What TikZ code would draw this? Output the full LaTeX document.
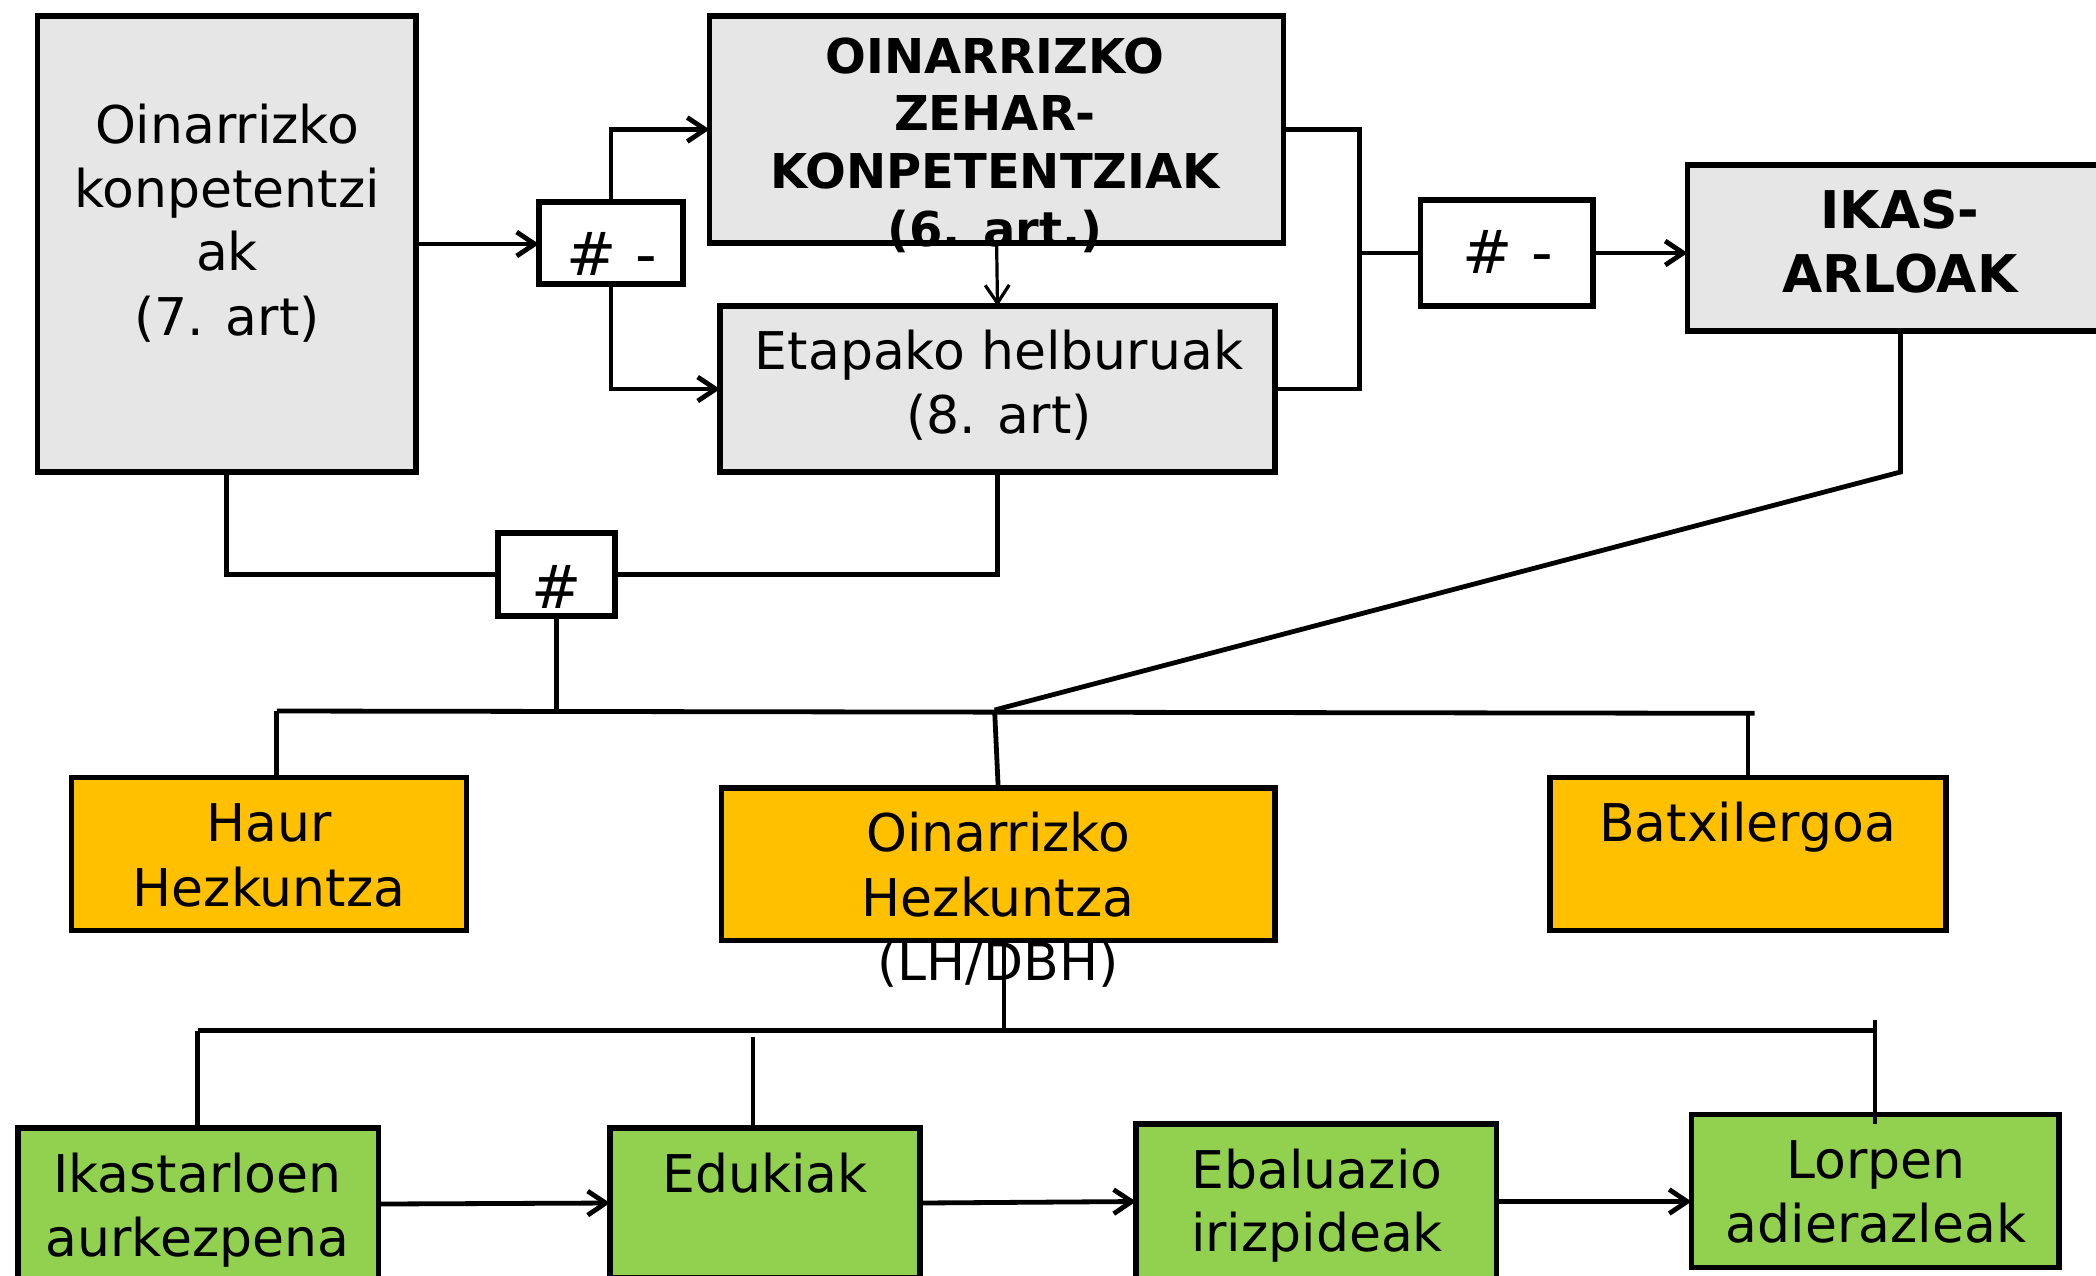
\documentclass[tikz,border=0pt]{standalone}
\usepackage{fontspec}
\setmainfont{DejaVu Sans}
\usetikzlibrary{arrows.meta,calc}
\definecolor{boxgray}{HTML}{E6E6E6}
\definecolor{boxorange}{HTML}{FFC000}
\definecolor{boxgreen}{HTML}{92D050}
\begin{document}
\begin{tikzpicture}[x=0.5pt,y=-0.5pt,
  box/.style={draw=black, line width=2.6pt, rectangle, inner sep=0pt, outer sep=0pt, anchor=north west},
  ln/.style={draw=black, line width=2.4pt},
  arr/.style={ln, -{Straight Barb[length=9pt,width=12pt]}},
  thinarr/.style={draw=black, line width=1.6pt, -{Straight Barb[length=9pt,width=12pt]}},
  txt/.style={anchor=base, inner sep=0pt, font=\fontsize{26pt}{31pt}\selectfont},
  btxt/.style={anchor=base, inner sep=0pt, font=\fontsize{24pt}{29pt}\selectfont\bfseries},
  bbtxt/.style={anchor=base, inner sep=0pt, font=\fontsize{26pt}{31pt}\selectfont\bfseries},
  htxt/.style={anchor=base, inner sep=0pt, font=\fontsize{30pt}{36pt}\selectfont}
]
\useasboundingbox (0,0) rectangle (2096,1275);
\fill[white] (0,0) rectangle (2096,1275);
\clip (0,0) rectangle (2096,1275);

% boxes
\node[box, fill=boxgray, minimum width=189.25pt, minimum height=228pt] (A) at (37.5,16) {};
\node[box, fill=white, minimum width=72pt, minimum height=41pt] (H1) at (539,202) {};
\node[box, fill=boxgray, minimum width=287pt, minimum height=113.5pt] (B) at (709.6,16) {};
\node[box, fill=boxgray, minimum width=277.5pt, minimum height=83pt] (C) at (720,306) {};
\node[box, fill=white, minimum width=86.25pt, minimum height=53pt] (H2) at (1420.5,200) {};
\node[box, fill=boxgray, minimum width=213pt, minimum height=83pt] (D) at (1687.5,165) {};
\node[box, fill=white, minimum width=58.5pt, minimum height=41.5pt] (H3) at (498,533) {};
\node[box, fill=boxorange, minimum width=197.5pt, minimum height=76.5pt] (Haur) at (71.4,777.7) {};
\node[box, fill=boxorange, minimum width=276.8pt, minimum height=76.25pt] (OH) at (721.4,788) {};
\node[box, fill=boxorange, minimum width=198pt, minimum height=76.5pt] (Batx) at (1550,777.7) {};
\node[box, fill=boxgreen, minimum width=180.35pt, minimum height=76pt] (Ik) at (17.9,1128) {};
\node[box, fill=boxgreen, minimum width=155pt, minimum height=75pt] (Edu) at (610,1128) {};
\node[box, fill=boxgreen, minimum width=180.2pt, minimum height=77.5pt] (Ebal) at (1136,1124) {};
\node[box, fill=boxgreen, minimum width=183.75pt, minimum height=76.5pt] (Lor) at (1691.5,1114.7) {};

% connectors
\draw[arr] (A.east) -- (A.east -| H1.west);
\draw[arr] (H1.north) |- (B.west);
\draw[arr] (H1.south) |- (C.west);
\draw[thinarr] (B.south) -- (C.north);
\coordinate (J) at (1359.6,253);
\draw[ln] (B.east) -| (J) |- (C.east);
\draw[ln] (J) -- (H2.west);
\draw[arr] (H2.east) -- (H2.east -| D.west);
\coordinate (K1) at (994.6,710);
\coordinate (Dk) at (1900.5,472);
\draw[ln] (D.south) -- (Dk) -- (K1);
\draw[ln] (A.south) |- (H3.west);
\draw[ln] (C.south) |- (H3.east);
\coordinate (b1L) at (276.8,711);
\coordinate (b1R) at (1754.5,713.3);
\draw[ln] (b1L) -- (b1R);
\draw[ln] (H3.south) -- (H3.south |- b1L);
\draw[ln] (b1L) -- (b1L |- Haur.north);
\draw[ln] (K1) -- (OH.north);
\draw[ln] (Batx.north |- b1R) -- (Batx.north);
\coordinate (b2L) at (197.8,1030.8);
\coordinate (b2R) at (1875,1030.8);
\coordinate (O1) at (1004,940.5);
\draw[ln] (O1) -- (O1 |- b2L);
\draw[ln] (b2L) -- (b2R);
\draw[ln] (b2L) -- (b2L |- Ik.north);
\coordinate (E1) at (753,1037);
\draw[ln] (E1) -- (E1 |- Edu.north);
\coordinate (L1) at (1875,1020);
\coordinate (L2) at (1875,1124);
\draw[ln] (L1) -- (L2);
\draw[arr] (Ik.east) -- (Edu.west);
\draw[arr] (Edu.east) -- (Ebal.west);
\draw[arr] (Ebal.east) -- (Ebal.east -| Lor.west);

% texts
\node[txt] (a1) at (227,143) {Oinarrizko};
\node[txt] (a2) at (227,207) {konpetentzi};
\node[txt] (a3) at (227,270) {ak};
\node[txt] (a4) at (227,335) {(7. art)};
\node[htxt] (h1t) at (612,275) {\# -};
\node[btxt] (b1) at (995,73.7) {OINARRIZKO};
\node[btxt] (b2) at (995,130.8) {ZEHAR-};
\node[btxt] (b3) at (995,188.8) {KONPETENTZIAK};
\begin{scope}
\clip (700,0) rectangle (1300,252);
\node[btxt] (b4) at (995,246.3) {(6. art.)};
\end{scope}
\node[txt] (c1) at (999,369) {Etapako helburuak};
\node[txt] (c2) at (999,433) {(8. art)};
\node[htxt] (h2t) at (1508,273) {\# -};
\node[bbtxt] (d1) at (1900,228.6) {IKAS-};
\node[bbtxt] (d2) at (1900,292) {ARLOAK};
\node[htxt] (h3t) at (557,608) {\#};
\node[txt] (e1) at (269,841.3) {Haur};
\node[txt] (e2) at (269,906) {Hezkuntza};
\node[txt] (f1) at (998,851.4) {Oinarrizko};
\node[txt] (f2) at (998,916.6) {Hezkuntza};
\node[txt] (f3) at (998,980) {(LH/DBH)};
\node[txt] (g1) at (1747.5,841.3) {Batxilergoa};
\node[txt] (i1) at (197.5,1192.8) {Ikastarloen};
\node[txt] (i2) at (197.5,1256.4) {aurkezpena};
\node[txt] (k1) at (765,1192.8) {Edukiak};
\node[txt] (m1) at (1317,1188.8) {Ebaluazio};
\node[txt] (m2) at (1317,1251.6) {irizpideak};
\node[txt] (n1) at (1876,1178.7) {Lorpen};
\node[txt] (n2) at (1876,1242) {adierazleak};
\end{tikzpicture}
\end{document}
